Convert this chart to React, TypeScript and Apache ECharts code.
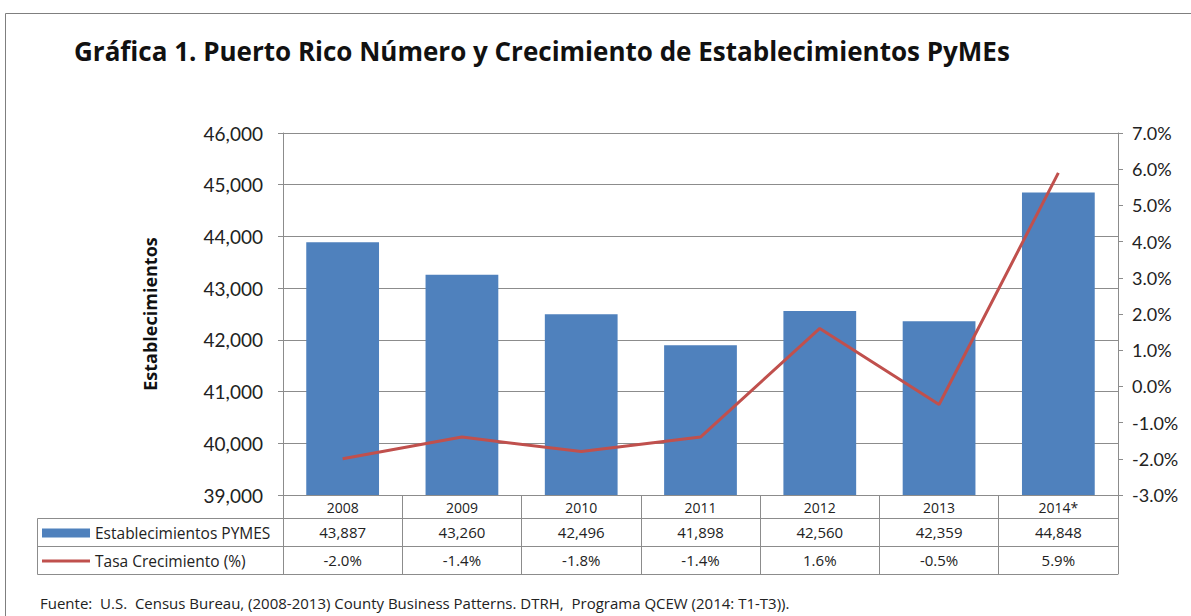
import React, { useEffect, useRef } from "react";
import * as echarts from "echarts";

const categories = ["2008", "2009", "2010", "2011", "2012", "2013", "2014*"];
const establecimientos = [43887, 43260, 42496, 41898, 42560, 42359, 44848];
const crecimiento = [-2.0, -1.4, -1.8, -1.4, 1.6, -0.5, 5.9];
const seriesNames = ["Establecimientos PYMES", "Tasa Crecimiento (%)"];
const titleText = "Gráfica 1. Puerto Rico Número y Crecimiento de Establecimientos PyMEs";
const yAxisName = "Establecimientos";
const footnote = "Fuente:  U.S.  Census Bureau, (2008-2013) County Business Patterns. DTRH,  Programa QCEW (2014: T1-T3)).";

const FONT = "Lato";
const FONT2 = "Open Sans";
const GRID_L = 283, GRID_T = 133, GRID_W = 835, GRID_H = 362;
const LINE_C = "#8c8c8c";

export default function App() {
  const ref = useRef<HTMLDivElement>(null);
  useEffect(() => {
    if (!ref.current) return;
    const chart = echarts.init(ref.current, null, { renderer: "svg" });
    const bottom = GRID_T + GRID_H;
    const tableAxis = (offset: number, labels: string[] | null, tickLen: number, margin: number, fontSize: number) => ({
      type: "category",
      data: categories,
      position: "bottom",
      offset,
      gridIndex: 0,
      boundaryGap: true,
      axisLine: { show: true, onZero: false, lineStyle: { color: LINE_C, width: 1 } },
      axisTick: { show: tickLen > 0, length: tickLen, interval: 0, lineStyle: { color: LINE_C } },
      axisLabel: labels
        ? {
            show: true,
            interval: 0,
            margin,
            fontFamily: FONT2,
            fontSize,
            color: "#222",
            formatter: (_v: string, i: number) => labels[i],
          }
        : { show: false },
      splitLine: { show: false },
    });
    const legendText = { fontFamily: FONT2, fontSize: 15.5, color: "#222" };
    chart.setOption({
      animation: false,
      backgroundColor: "#fff",
      title: {
        text: titleText,
        left: 74,
        top: 38,
        padding: 0,
        textStyle: { fontFamily: FONT2, fontSize: 26, fontWeight: "bold", color: "#111" },
      },
      legend: [
        {
          orient: "vertical",
          left: 42,
          top: bottom + 37 - 7,
          padding: 0,
          itemWidth: 48,
          itemHeight: 9,
          icon: "rect",
          selectedMode: false,
          textStyle: legendText,
          data: [seriesNames[0]],
        },
        {
          orient: "vertical",
          left: 42,
          top: bottom + 65 - 7,
          padding: 0,
          itemWidth: 48,
          itemHeight: 3,
          icon: "rect",
          selectedMode: false,
          textStyle: legendText,
          data: [seriesNames[1]],
        },
      ],
      grid: { left: GRID_L, top: GRID_T, width: GRID_W, height: GRID_H, containLabel: false },
      xAxis: [
        tableAxis(0, categories, 23, 5, 14),
        tableAxis(23, establecimientos.map((v) => v.toLocaleString("en-US")), 28, 6, 15),
        tableAxis(51, crecimiento.map((v) => v.toFixed(1) + "%"), 28, 6, 15),
        tableAxis(79, null, 0, 0, 14),
      ],
      yAxis: [
        {
          type: "value",
          min: 39000,
          max: 46000,
          interval: 1000,
          name: yAxisName,
          nameLocation: "middle",
          nameGap: 124,
          nameTextStyle: { fontFamily: FONT2, fontSize: 18, fontWeight: "bold", color: "#111" },
          axisLine: { show: true, onZero: false, lineStyle: { color: LINE_C } },
          axisTick: { show: true, length: 5, lineStyle: { color: LINE_C } },
          axisLabel: {
            margin: 20,
            fontFamily: FONT,
            fontSize: 19,
            color: "#222",
            formatter: (v: number) => v.toLocaleString("en-US"),
          },
          splitLine: { show: true, lineStyle: { color: LINE_C, width: 1 } },
        },
        {
          type: "value",
          min: -3,
          max: 7,
          interval: 1,
          position: "right",
          axisLine: { show: true, onZero: false, lineStyle: { color: LINE_C } },
          axisTick: { show: true, length: 5, lineStyle: { color: LINE_C } },
          axisLabel: {
            margin: 14,
            fontFamily: FONT,
            fontSize: 18,
            color: "#222",
            formatter: (v: number) => v.toFixed(1) + "%",
          },
          splitLine: { show: false },
        },
      ],
      series: [
        {
          name: seriesNames[0],
          type: "bar",
          xAxisIndex: 0,
          yAxisIndex: 0,
          data: establecimientos,
          barCategoryGap: "39%",
          itemStyle: { color: "#4F81BD" },
        },
        {
          name: seriesNames[1],
          type: "line",
          xAxisIndex: 0,
          yAxisIndex: 1,
          data: crecimiento,
          symbol: "none",
          lineStyle: { color: "#C0504D", width: 3 },
          itemStyle: { color: "#C0504D" },
        },
      ],
      graphic: [
        {
          type: "rect",
          shape: { x: 5.5, y: 13.5, width: 1300, height: 700 },
          style: { fill: "none", stroke: "#7f7f7f", lineWidth: 1 },
          silent: true,
        },
        { type: "line", shape: { x1: 37.5, y1: bottom + 23.5, x2: GRID_L, y2: bottom + 23.5 }, style: { stroke: LINE_C, lineWidth: 1 } },
        { type: "line", shape: { x1: 37.5, y1: bottom + 51.5, x2: GRID_L, y2: bottom + 51.5 }, style: { stroke: LINE_C, lineWidth: 1 } },
        { type: "line", shape: { x1: 37.5, y1: bottom + 79.5, x2: GRID_L, y2: bottom + 79.5 }, style: { stroke: LINE_C, lineWidth: 1 } },
        { type: "line", shape: { x1: 37.5, y1: bottom + 23.5, x2: 37.5, y2: bottom + 79.5 }, style: { stroke: LINE_C, lineWidth: 1 } },
        {
          type: "text",
          x: 40,
          y: 603,
          style: { text: footnote, fontFamily: FONT2, fontSize: 15, fill: "#222", verticalAlign: "middle" },
        },
      ],
    });
    return () => chart.dispose();
  }, []);
  return <div ref={ref} style={{ position: "fixed", left: 0, top: 0, width: 1191, height: 616 }} />;
}
